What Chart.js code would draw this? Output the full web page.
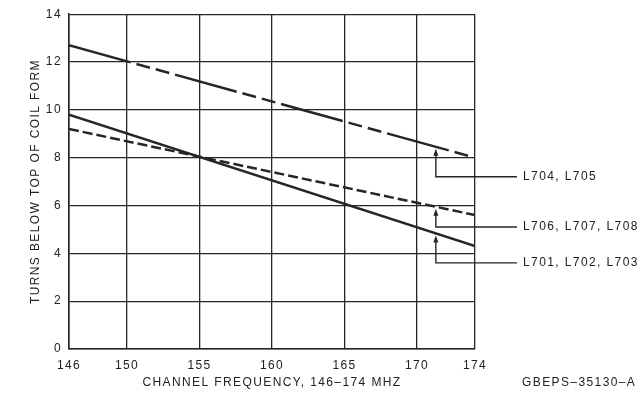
<!DOCTYPE html>
<html>
<head>
<meta charset="utf-8">
<script src="https://cdn.jsdelivr.net/npm/chart.js@4.4.1/dist/chart.umd.min.js"></script>
<style>
  html, body { margin: 0; padding: 0; background: #fff; }
  #wrap { width: 641px; height: 400px; position: relative; }
</style>
</head>
<body>
<div id="wrap"><canvas id="c" width="641" height="400"></canvas></div>
<script>
// ---- data ----
const frequencies = [146, 174];
const l704 = [12.7, 8.0];   // long dash
const l706 = [9.2, 5.6];    // short dash
const l701 = [9.8, 4.3];    // solid
const xTicks = [146, 150, 155, 160, 165, 170, 174];
const yTicks = [0, 2, 4, 6, 8, 10, 12, 14];
const seriesLabels = ['L704, L705', 'L706, L707, L708', 'L701, L702, L703'];
const leaderFreq = 171.3;               // where the arrows touch the curves
const leaderLabelY = [7.2, 5.1, 3.6];   // value level of each leader's horizontal run

const FONT = "'Liberation Sans', Arial, sans-serif";
const INK = '#262626';
const TXT = '#222';
const SPACING = '1.4px';

function pts(ys) { return frequencies.map((f, i) => ({ x: f, y: ys[i] })); }

const spacingPlugin = {
  id: 'spacing',
  beforeUpdate(chart) { chart.ctx.letterSpacing = SPACING; },
  beforeLayout(chart) { chart.ctx.letterSpacing = SPACING; },
  beforeDraw(chart) { chart.ctx.letterSpacing = SPACING; }
};

const leaderPlugin = {
  id: 'leaders',
  afterDatasetsDraw(chart) {
    const { ctx, scales: { x, y } } = chart;
    const ax = x.getPixelForValue(leaderFreq);
    const endX = 517;
    ctx.save();
    ctx.letterSpacing = SPACING;
    ctx.strokeStyle = INK;
    ctx.fillStyle = INK;
    ctx.lineWidth = 1.4;
    chart.data.datasets.forEach((ds, i) => {
      const d = ds.data;
      const t = (leaderFreq - d[0].x) / (d[1].x - d[0].x);
      const v = d[0].y + t * (d[1].y - d[0].y);
      const tipY = y.getPixelForValue(v) + 2;
      const baseY = y.getPixelForValue(leaderLabelY[i]);
      ctx.setLineDash([]);
      ctx.beginPath();
      ctx.moveTo(ax, tipY + 5);
      ctx.lineTo(ax, baseY);
      ctx.lineTo(endX, baseY);
      ctx.stroke();
      ctx.beginPath();
      ctx.moveTo(ax, tipY);
      ctx.lineTo(ax - 2.5, tipY + 7);
      ctx.lineTo(ax + 2.5, tipY + 7);
      ctx.closePath();
      ctx.fill();
      ctx.font = '12px ' + FONT;
      ctx.fillStyle = TXT;
      ctx.textBaseline = 'middle';
      ctx.textAlign = 'left';
      ctx.fillText(ds.label, endX + 6, baseY);
      ctx.fillStyle = INK;
    });
    ctx.font = '12px ' + FONT;
    ctx.fillStyle = TXT;
    ctx.textBaseline = 'middle';
    ctx.textAlign = 'left';
    ctx.fillText('GBEPS\u201335130\u2013A', 522, 383);
    ctx.restore();
  }
};

new Chart(document.getElementById('c'), {
  type: 'scatter',
  data: {
    datasets: [
      { label: seriesLabels[0], data: pts(l704), showLine: true, borderColor: INK, borderWidth: 2.5,
        borderDash: [64, 6, 14, 6, 14, 6], pointRadius: 0, tension: 0 },
      { label: seriesLabels[1], data: pts(l706), showLine: true, borderColor: INK, borderWidth: 2.5,
        borderDash: [10, 4], pointRadius: 0, tension: 0 },
      { label: seriesLabels[2], data: pts(l701), showLine: true, borderColor: INK, borderWidth: 2.5,
        pointRadius: 0, tension: 0 }
    ]
  },
  options: {
    responsive: false,
    animation: false,
    layout: { padding: { top: 14, right: 166, left: 0, bottom: 0 } },
    plugins: { legend: { display: false }, tooltip: { enabled: false } },
    scales: {
      x: {
        type: 'linear', min: 146, max: 174,
        afterBuildTicks(s) { s.ticks = xTicks.map(v => ({ value: v })); },
        afterFit(s) { s.height = 51; },
        grid: { color: INK, lineWidth: 1.3, drawTicks: false },
        border: { color: INK, width: 1.6 },
        ticks: { color: TXT, font: { family: FONT, size: 12 }, padding: 9, maxRotation: 0, autoSkip: false },
        title: { display: true, text: 'CHANNEL FREQUENCY, 146\u2013174 MHZ', color: TXT,
                 font: { family: FONT, size: 12 }, padding: { top: 2, bottom: 10 } }
      },
      y: {
        type: 'linear', min: 0, max: 14,
        afterBuildTicks(s) { s.ticks = yTicks.map(v => ({ value: v })); },
        afterFit(s) { s.width = 69; },
        grid: { color: INK, lineWidth: 1.3, drawTicks: false },
        border: { color: INK, width: 1.6 },
        ticks: { color: TXT, font: { family: FONT, size: 12 }, padding: 7 },
        title: { display: true, text: 'TURNS BELOW TOP OF COIL FORM', color: TXT,
                 font: { family: FONT, size: 12 }, padding: { top: 28, bottom: 0 } }
      }
    }
  },
  plugins: [spacingPlugin, leaderPlugin]
});
</script>
</body>
</html>
